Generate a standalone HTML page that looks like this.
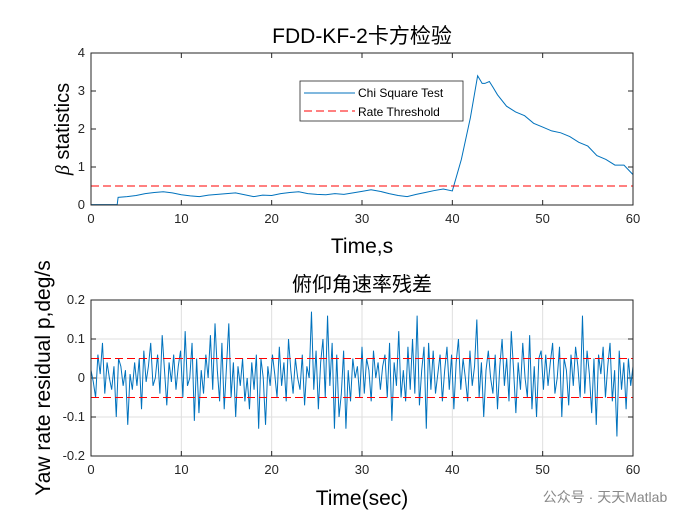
<!DOCTYPE html>
<html><head><meta charset="utf-8"><style>
body{margin:0;background:#fff;}
svg{display:block;font-family:"Liberation Sans","Noto Sans CJK SC",sans-serif;}
</style></head><body>
<svg id="fig" width="700" height="525" viewBox="0 0 700 525">
<rect width="700" height="525" fill="#fff"/>
<g id="top"></g>
<g id="bot"></g>
<text x="362" y="43" font-size="21" text-anchor="middle">FDD-KF-2卡方检验</text>
<text x="362" y="253" font-size="21" text-anchor="middle">Time,s</text>
<text transform="translate(69,129) rotate(-90)" font-size="20" text-anchor="middle"><tspan font-family="Liberation Serif" font-style="italic">β</tspan> statistics</text>
<text x="362" y="291" font-size="20" text-anchor="middle">俯仰角速率残差</text>
<text x="362" y="505" font-size="21" text-anchor="middle">Time(sec)</text>
<text transform="translate(50,378) rotate(-90)" font-size="21" text-anchor="middle">Yaw rate residual p,deg/s</text>
<g>
<rect x="300" y="81" width="163" height="40" fill="#fff" stroke="#262626" stroke-width="0.8"/>
<line x1="304" y1="93" x2="355" y2="93" stroke="#0072BD" stroke-width="1"/>
<text x="358" y="97" font-size="12">Chi Square Test</text>
<line x1="304" y1="111" x2="355" y2="111" stroke="#FF0000" stroke-width="1" stroke-dasharray="8,4"/>
<text x="358" y="116" font-size="12">Rate Threshold</text>
</g>
<text x="605" y="502" font-size="14" fill="#888" text-anchor="middle">公众号 · 天天Matlab</text>
</svg>
<script>
const topT=[0,1,2,2.9,3,4,5,6,7,8,9,10,11,12,13,14,15,16,17,18,19,20,21,22,23,24,25,26,27,28,29,30,31,32,33,34,35,36,37,38,39,40,41,42,42.8,43.3,43.6,44.1,44.5,45,46,47,48,49,50,51,52,53,54,55,56,57,58,59,60];
const topV=[0.01,0.01,0.01,0.01,0.2,0.22,0.25,0.3,0.33,0.35,0.32,0.27,0.24,0.22,0.26,0.28,0.3,0.32,0.27,0.22,0.26,0.25,0.3,0.33,0.35,0.3,0.28,0.27,0.3,0.28,0.32,0.36,0.4,0.36,0.3,0.25,0.22,0.28,0.33,0.38,0.42,0.37,1.2,2.3,3.4,3.2,3.2,3.25,3.1,2.9,2.6,2.45,2.35,2.15,2.05,1.95,1.9,1.8,1.65,1.55,1.3,1.2,1.05,1.05,0.8];
const threshold=[0.5];
const resBand=[0.05,-0.05];
const res=[0.02,-0.01,-0.05,0.06,0.01,0.09,-0.04,0.04,0.0,-0.03,0.03,-0.1,0.05,0.03,-0.02,0.02,-0.12,0.01,-0.03,0.04,-0.02,0.05,-0.08,0.07,-0.01,0.03,0.09,-0.02,0.0,0.06,-0.04,0.11,0.02,-0.07,0.04,-0.01,0.06,-0.03,0.03,0.07,-0.05,0.12,-0.02,0.0,0.09,-0.11,0.05,-0.09,0.02,-0.04,0.06,0.0,0.11,-0.03,0.14,0.02,-0.06,0.09,-0.08,0.03,0.14,-0.05,0.04,-0.1,0.03,-0.02,0.05,-0.06,0.0,-0.08,0.04,-0.03,0.06,-0.13,0.05,0.0,-0.12,0.03,-0.02,0.06,0.01,-0.05,0.08,-0.02,0.04,-0.06,0.1,0.02,-0.04,0.05,0.0,-0.03,0.06,-0.07,0.03,0.0,0.17,-0.03,0.07,-0.08,0.04,0.1,-0.05,0.16,-0.02,0.09,-0.13,0.06,-0.1,-0.04,0.07,-0.13,0.02,-0.06,0.05,0.0,0.03,-0.05,0.08,-0.04,0.05,0.02,-0.06,0.07,0.0,0.04,-0.03,0.03,0.06,-0.05,0.09,-0.11,0.04,-0.02,0.12,-0.05,0.02,-0.06,0.08,-0.03,0.1,-0.04,0.16,-0.07,0.02,0.08,-0.13,0.09,-0.03,0.07,-0.04,0.01,0.06,-0.06,0.02,0.08,-0.03,0.06,-0.08,0.04,0.1,-0.03,0.05,0.0,-0.06,0.07,-0.02,0.03,0.15,-0.05,0.04,-0.1,0.02,0.07,0.0,-0.04,0.06,-0.08,0.03,0.1,-0.02,0.05,-0.06,0.12,0.02,-0.09,0.04,-0.03,0.09,0.0,-0.05,0.11,-0.08,0.03,-0.1,0.05,0.07,-0.03,0.06,-0.02,0.04,0.09,-0.04,0.0,0.08,-0.1,0.05,0.02,-0.07,0.06,-0.02,0.08,0.03,-0.05,0.16,-0.04,0.07,0.01,-0.09,0.05,-0.12,0.06,0.01,0.08,-0.05,0.03,0.09,-0.06,0.02,-0.15,0.07,-0.03,0.04,-0.08,0.05,-0.02,0.03];
const xTicks=[0,10,20,30,40,50,60];
const topYTicks=[0,1,2,3,4];
const botYTicks=[-0.2,-0.1,0,0.1,0.2];
const NS='http://www.w3.org/2000/svg';
function el(p,tag,a){const e=document.createElementNS(NS,tag);for(const k in a)e.setAttribute(k,a[k]);p.appendChild(e);return e;}
function axes(g,L,R,T,B,ymin,ymax,yTicks,grid,fmt){
 const sx=v=>L+(v/60)*(R-L), sy=v=>B-(v-ymin)/(ymax-ymin)*(B-T);
 if(grid){
  xTicks.forEach(t=>{const l=el(g,'line',{x1:sx(t),x2:sx(t),y1:T,y2:B,stroke:'#dfdfdf','stroke-width':1});});
  yTicks.forEach(t=>{const l=el(g,'line',{x1:L,x2:R,y1:sy(t),y2:sy(t),stroke:'#dfdfdf','stroke-width':1});});
 }
 xTicks.forEach(t=>{el(g,'line',{x1:sx(t),x2:sx(t),y1:B,y2:B-5,stroke:'#262626'});el(g,'line',{x1:sx(t),x2:sx(t),y1:T,y2:T+5,stroke:'#262626'});
  const tx=el(g,'text',{x:sx(t),y:B+18,'font-size':13,'text-anchor':'middle',fill:'#262626'});tx.textContent=t;
  });
 yTicks.forEach(t=>{el(g,'line',{x1:L,x2:L+5,y1:sy(t),y2:sy(t),stroke:'#262626'});el(g,'line',{x1:R,x2:R-5,y1:sy(t),y2:sy(t),stroke:'#262626'});
  const tx=el(g,'text',{x:L-6,y:sy(t)+4,'font-size':13,'text-anchor':'end',fill:'#262626'});tx.textContent=fmt(t);
  });
 return {sx,sy};
}
const tg=document.getElementById('top'), bg=document.getElementById('bot');
const A=axes(tg,91,633,53,205,0,4,topYTicks,false,t=>t);
const p1=el(tg,'polyline',{points:topT.map((t,i)=>A.sx(t)+','+A.sy(topV[i])).join(' '),fill:'none',stroke:'#0072BD','stroke-width':1});

const th=el(tg,'line',{x1:91,x2:633,y1:A.sy(threshold[0]),y2:A.sy(threshold[0]),stroke:'#FF0000','stroke-width':1,'stroke-dasharray':'8,4'});

el(tg,'rect',{x:91,y:53,width:542,height:152,fill:'none',stroke:'#262626','stroke-width':1});
const B=axes(bg,91,633,300,456,-0.2,0.2,botYTicks,true,t=>t===0?'0':t.toFixed(1));
const n=res.length;
const p2=el(bg,'polyline',{points:res.map((v,i)=>B.sx(i*60/(n-1))+','+B.sy(v)).join(' '),fill:'none',stroke:'#0072BD','stroke-width':1});

resBand.forEach(v=>{const l=el(bg,'line',{x1:91,x2:633,y1:B.sy(v),y2:B.sy(v),stroke:'#FF0000','stroke-width':1,'stroke-dasharray':'8,4'});
 });
el(bg,'rect',{x:91,y:300,width:542,height:156,fill:'none',stroke:'#262626','stroke-width':1});
</script>
</body></html>
